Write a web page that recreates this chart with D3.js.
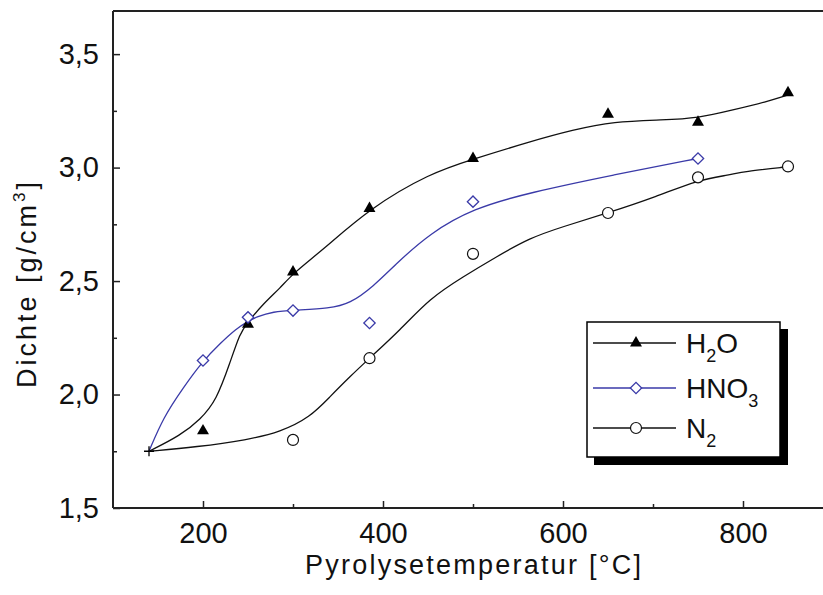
<!DOCTYPE html>
<html><head><meta charset="utf-8">
<script src="https://cdn.jsdelivr.net/npm/d3@7"></script>
<style>body{margin:0;background:#fff}svg{display:block;font-family:"Liberation Sans",Arial,sans-serif}</style>
</head><body>
<svg id="c" width="823" height="595"></svg>
<script>
// ---- data ----
const startPoint = [140, 1.75];
const h2oT = [200, 250, 300, 385, 500, 650, 750, 850];
const h2oD = [1.84, 2.31, 2.54, 2.82, 3.04, 3.235, 3.20, 3.33];
const hno3T = [200, 250, 300, 385, 500, 750];
const hno3D = [2.15, 2.34, 2.37, 2.315, 2.85, 3.04];
const n2T = [300, 385, 500, 650, 750, 850];
const n2D = [1.80, 2.16, 2.62, 2.80, 2.957, 3.005];
// smoothed fit curves
const h2oFitT = [140,175,197,215,230,241,249,267,286,300,333,385,452,500,563,611,656,711,750,789,826,850];
const h2oFitD = [1.75,1.82,1.89,1.975,2.14,2.27,2.315,2.40,2.47,2.534,2.637,2.82,2.975,3.037,3.114,3.166,3.203,3.21,3.218,3.254,3.29,3.32];
const hno3FitT = [140,156,178,199,219,237,249,260,278,300,341,363,389,415,452,500,563,656,750];
const hno3FitD = [1.75,1.90,2.03,2.144,2.225,2.29,2.32,2.343,2.365,2.372,2.38,2.40,2.475,2.578,2.71,2.82,2.89,2.968,3.04];
const n2FitT = [140,193,249,286,319,341,363,385,419,452,489,526,563,600,649,704,750,786,800,850];
const n2FitD = [1.75,1.769,1.80,1.835,1.90,1.99,2.078,2.16,2.284,2.424,2.519,2.607,2.69,2.74,2.799,2.872,2.946,2.968,2.982,3.004];
const xMajor = [200, 400, 600, 800];
const xMinor = [300, 500, 700];
const yMajor = [1.5, 2.0, 2.5, 3.0, 3.5];
const yMinor = [1.75, 2.25, 2.75, 3.25];
const xTitle = "Pyrolysetemperatur [°C]";

const svg = d3.select("#c");
const L = 113, T = 11, B = 508;
const x = d3.scaleLinear().domain([100, 900]).range([L, L + 720]);
const y = d3.scaleLinear().domain([1.5, 3.69]).range([B, T]);
const blue = "#3a3aa8";

// curves
const line = d3.line().x(d => x(d[0])).y(d => y(d[1])).curve(d3.curveBasis);
const zip = (a, b) => a.map((v, i) => [v, b[i]]);
svg.append("path").attr("d", line(zip(n2FitT, n2FitD))).attr("fill", "none").attr("stroke", "#111").attr("stroke-width", 1.3);
svg.append("path").attr("d", line(zip(h2oFitT, h2oFitD))).attr("fill", "none").attr("stroke", "#111").attr("stroke-width", 1.3);
svg.append("path").attr("d", line(zip(hno3FitT, hno3FitD))).attr("fill", "none").attr("stroke", blue).attr("stroke-width", 1.3);

// markers
const tri = d3.symbol().type(d3.symbolTriangle).size(62)();
const dia = d3.symbol().type(d3.symbolSquare).size(64)();
function triM(g, cx, cy){ g.append("path").attr("d", tri).attr("transform", `translate(${cx},${cy})`).attr("fill", "#000"); }
function diaM(g, cx, cy){ g.append("path").attr("d", dia).attr("transform", `translate(${cx},${cy}) rotate(45)`).attr("fill", "#fff").attr("stroke", blue).attr("stroke-width", 1.3); }
function cirM(g, cx, cy){ g.append("circle").attr("cx", cx).attr("cy", cy).attr("r", 5.5).attr("fill", "#fff").attr("stroke", "#111").attr("stroke-width", 1.2); }
h2oT.forEach((t, i) => triM(svg, x(t), y(h2oD[i])));
hno3T.forEach((t, i) => diaM(svg, x(t), y(hno3D[i])));
n2T.forEach((t, i) => cirM(svg, x(t), y(n2D[i])));
// start cross
const sx = x(startPoint[0]), sy = y(startPoint[1]);
svg.append("path").attr("d", `M${sx-5},${sy}H${sx+5}M${sx},${sy-5}V${sy+5}`).attr("stroke", "#000").attr("stroke-width", 1.3);

// frame
const fr = svg.append("g").attr("stroke", "#222").attr("stroke-width", 2).attr("fill", "none");
fr.append("path").attr("d", `M${L},${T}H${L+720}M${L},${T}V${B}M${L},${B}H${L+720}`);
// axes (inward ticks)
const ax = svg.append("g").attr("transform", `translate(0,${B})`)
  .call(d3.axisBottom(x).tickValues(xMajor).tickSize(-7).tickPadding(14).tickFormat(d3.format("d")));
ax.select(".domain").remove();
ax.selectAll(".tick line").attr("stroke", "#222").attr("stroke-width", 1.5);
ax.selectAll("text").attr("font-size", 29).attr("fill", "#111").attr("font-family", "Liberation Sans, Arial").attr("dy", "0.71em");
svg.append("g").attr("transform", `translate(0,${B})`).call(d3.axisBottom(x).tickValues(xMinor).tickSize(-4).tickFormat(""))
  .call(g => { g.select(".domain").remove(); g.selectAll("line").attr("stroke", "#222").attr("stroke-width", 1.5); });
const ay = svg.append("g").attr("transform", `translate(${L},0)`)
  .call(d3.axisLeft(y).tickValues(yMajor).tickSize(-7).tickPadding(14).tickFormat(d => d3.format(".1f")(d).replace(".", ",")));
ay.select(".domain").remove();
ay.selectAll(".tick line").attr("stroke", "#222").attr("stroke-width", 1.5);
ay.selectAll("text").attr("font-size", 29).attr("fill", "#111").attr("font-family", "Liberation Sans, Arial");
svg.append("g").attr("transform", `translate(${L},0)`).call(d3.axisLeft(y).tickValues(yMinor).tickSize(-4).tickFormat(""))
  .call(g => { g.select(".domain").remove(); g.selectAll("line").attr("stroke", "#222").attr("stroke-width", 1.5); });

// axis titles
svg.append("text").attr("x", 473).attr("y", 574).attr("text-anchor", "middle").attr("font-size", 27)
  .attr("textLength", 336).attr("lengthAdjust", "spacing").attr("fill", "#111").text(xTitle);
const yt = svg.append("text").attr("transform", "translate(36,285) rotate(-90)").attr("text-anchor", "middle").attr("font-size", 27)
  .attr("textLength", 206).attr("lengthAdjust", "spacing").attr("fill", "#111");
yt.append("tspan").text("Dichte [g/cm");
yt.append("tspan").attr("font-size", 17).attr("dy", -11).text("3");
yt.append("tspan").attr("dy", 11).text("]");

// legend
const lg = svg.append("g");
lg.append("rect").attr("x", 594).attr("y", 329).attr("width", 194).attr("height", 136).attr("fill", "#000");
lg.append("rect").attr("x", 587).attr("y", 322).attr("width", 193).attr("height", 135).attr("fill", "#fff").attr("stroke", "#000").attr("stroke-width", 1.5);
const legItems = [
  {base: "H", sub: "2", tail: "O", color: "#111", m: triM, y: 343},
  {base: "HNO", sub: "3", tail: "", color: blue, m: diaM, y: 388},
  {base: "N", sub: "2", tail: "", color: "#111", m: cirM, y: 428}
];
legItems.forEach(it => {
  lg.append("line").attr("x1", 593).attr("x2", 676).attr("y1", it.y).attr("y2", it.y).attr("stroke", it.color).attr("stroke-width", 1.3);
  it.m(lg, 636, it.y);
  const t = lg.append("text").attr("x", 686).attr("y", it.y + 10).attr("font-size", 28).attr("fill", "#111");
  t.append("tspan").text(it.base);
  t.append("tspan").attr("font-size", 18).attr("dy", 9).text(it.sub);
  if (it.tail) t.append("tspan").attr("dy", -9).text(it.tail);
});
</script>
</body></html>
